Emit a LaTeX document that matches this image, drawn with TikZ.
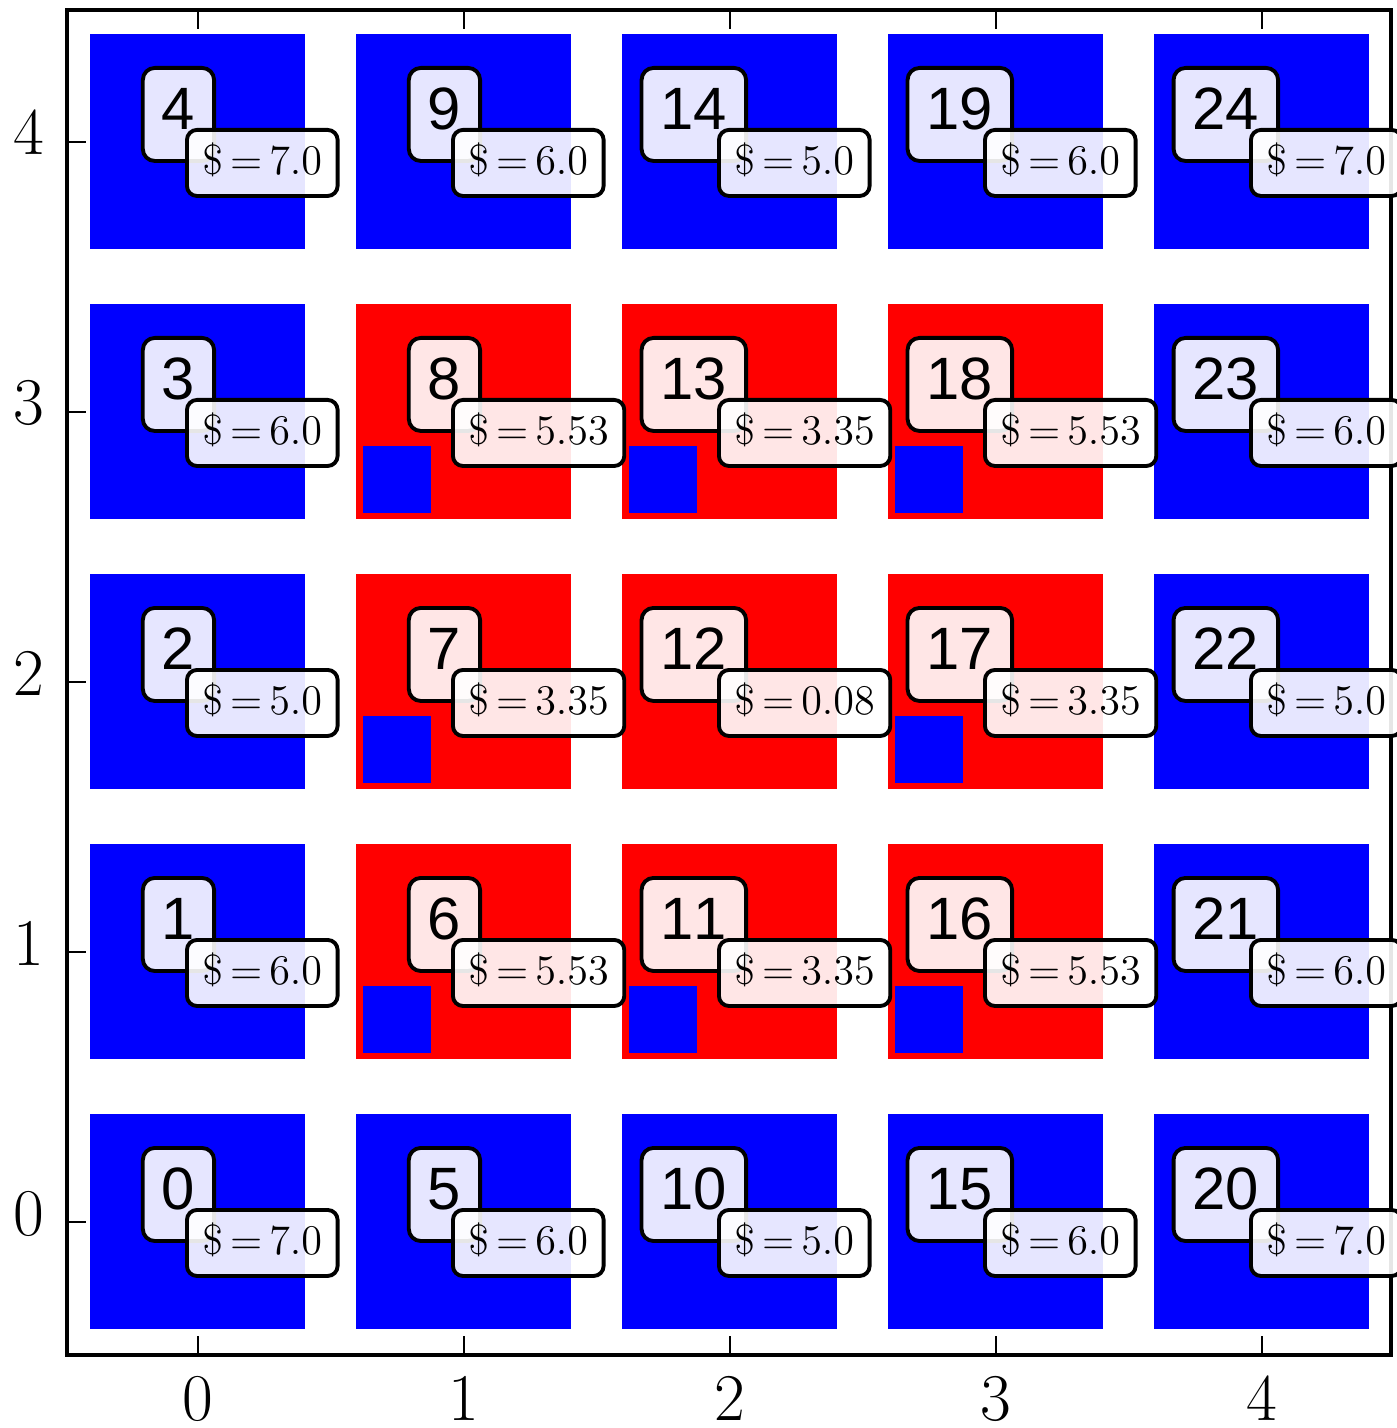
\documentclass[tikz,border=0pt]{standalone}
\usepackage{fontspec}
\newfontfamily\numfont[Kerning=Off]{Liberation Sans}
\begin{document}
\begin{tikzpicture}[x=0.01cm,y=-0.01cm,
  numbox/.style={draw=black, line width=1.1pt, fill=white, fill opacity=0.9,
    draw opacity=1, text opacity=1, rounded corners=0.12cm,
    font=\numfont\fontsize{17}{20}\selectfont, text height=0.43cm,
    text depth=0.12cm, inner xsep=0.19cm, inner ysep=0.19cm, anchor=north east},
  cashbox/.style={draw=black, line width=1.1pt, fill=white, fill opacity=0.9,
    draw opacity=1, text opacity=1, rounded corners=0.1cm,
    font=\fontsize{12}{14}\selectfont, text height=0.25cm, text depth=0.02cm,
    inner xsep=0.155cm, inner ysep=0.195cm, anchor=north west},
  ticklab/.style={font=\fontsize{19}{22}\selectfont, inner sep=0pt},
  frameline/.style={line width=0.037cm},
  tickline/.style={line width=0.02cm}]
\useasboundingbox (0,0) rectangle (1396,1428);
% cells: number / col / row / colour / value / small square
\def\celllist{0/0/0/blue/7.0/0, 1/0/1/blue/6.0/0, 2/0/2/blue/5.0/0, 3/0/3/blue/6.0/0, 4/0/4/blue/7.0/0,
  5/1/0/blue/6.0/0, 6/1/1/red/5.53/1, 7/1/2/red/3.35/1, 8/1/3/red/5.53/1, 9/1/4/blue/6.0/0,
  10/2/0/blue/5.0/0, 11/2/1/red/3.35/1, 12/2/2/red/0.08/0, 13/2/3/red/3.35/1, 14/2/4/blue/5.0/0,
  15/3/0/blue/6.0/0, 16/3/1/red/5.53/1, 17/3/2/red/3.35/1, 18/3/3/red/5.53/1, 19/3/4/blue/6.0/0,
  20/4/0/blue/7.0/0, 21/4/1/blue/6.0/0, 22/4/2/blue/5.0/0, 23/4/3/blue/6.0/0, 24/4/4/blue/7.0/0}
% squares
\foreach \n/\i/\j/\c/\v/\s in \celllist {
  \pgfmathsetmacro{\cx}{198+266*\i}
  \pgfmathsetmacro{\cy}{1222-270*\j}
  \fill[\c] (\cx-108,\cy-108) rectangle (\cx+107,\cy+107);
  \ifnum\s=1
    \fill[blue] (\cx-101,\cy+34) rectangle (\cx-33,\cy+101);
  \fi
}
% frame and ticks
\draw[frameline] (67,10) rectangle (1391,1355);
\foreach \k in {0,...,4} {
  \pgfmathsetmacro{\tx}{198+266*\k}
  \pgfmathsetmacro{\ty}{1222-270*\k}
  \coordinate (tt\k) at (\tx,10);
  \coordinate (tb\k) at (\tx,1355);
  \coordinate (tl\k) at (67,\ty);
  \draw[tickline] (tt\k) -- ++(0,19);
  \draw[tickline] (tb\k) -- ++(0,-19);
  \draw[tickline] (tl\k) -- ++(19,0);
  \node[ticklab, anchor=base] (xl\k) at (\tx,1420) {\k};
  \node[ticklab, anchor=base east] (yl\k) at (45,\ty+13) {\k};
}
% labels
\foreach \n/\i/\j/\c/\v/\s in \celllist {
  \pgfmathsetmacro{\cx}{198+266*\i}
  \pgfmathsetmacro{\cy}{1222-270*\j}
  \node[numbox] (num\n) at (\cx+18,\cy-76) {\n};
  \node[cashbox] (val\n) at (\cx-13,\cy-14) {$\$\,{=}\,\v$};
}
\end{tikzpicture}
\end{document}
